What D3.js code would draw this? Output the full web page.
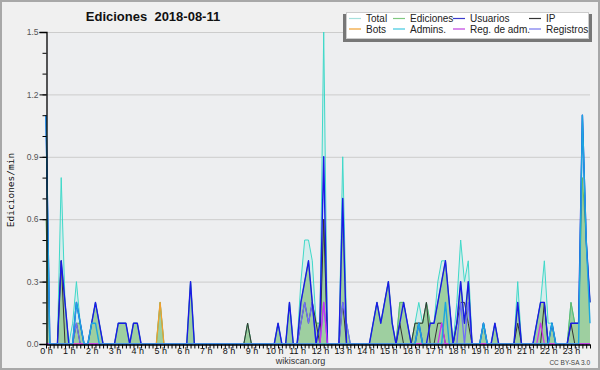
<!DOCTYPE html>
<html><head><meta charset="utf-8">
<script src="https://cdn.jsdelivr.net/npm/d3@7/dist/d3.min.js"></script>
<style>
html,body{margin:0;padding:0;background:#f0f0f0;}
svg{display:block;}
</style></head><body>
<svg id="c" width="600" height="370"></svg>
<script>
// ---- data (edits per minute, 10-minute bins, 0:00 .. 23:50) ----
const hourLabels = ["0 h","1 h","2 h","3 h","4 h","5 h","6 h","7 h","8 h","9 h","10 h","11 h",
  "12 h","13 h","14 h","15 h","16 h","17 h","18 h","19 h","20 h","21 h","22 h","23 h"];
const yTickLabels = ["0.0","0.3","0.6","0.9","1.2","1.5"];
const yTickValues = [0,0.3,0.6,0.9,1.2,1.5];

const total = [
 1.1,0,0,0,0.8,0.2,0,0.1,0.3,0.1,0,0,
 0.1,0.2,0.1,0,0,0,0,0.1,0.1,0.1,0,0.1,
 0.1,0,0,0,0,0,0.2,0,0,0,0,0,
 0,0,0.3,0,0,0,0,0,0,0,0,0,
 0,0,0,0,0,0.1,0,0,0,0,0,0,
 0,0.1,0,0,0.2,0,0,0.3,0.5,0.5,0.4,0.1,
 0.1,1.5,0,0,0,0,0.9,0.1,0,0,0,0,
 0,0,0.1,0.2,0.1,0.2,0.3,0.1,0,0.2,0.2,0.1,
 0,0.1,0.2,0.1,0.2,0.1,0.1,0.3,0.4,0.4,0.2,0,
 0.2,0.5,0.3,0.4,0,0,0,0.1,0,0,0.1,0,
 0,0,0,0,0.3,0,0,0,0,0.1,0.2,0.4,
 0.1,0.1,0,0,0,0,0.2,0.1,0.1,1.1,0.5,0.2];
const ediciones = [
 0.6,0,0,0,0.4,0.2,0,0,0.1,0.1,0,0,
 0.1,0.2,0.1,0,0,0,0,0.1,0.1,0.1,0,0.1,
 0.1,0,0,0,0,0,0.2,0,0,0,0,0,
 0,0,0.3,0,0,0,0,0,0,0,0,0,
 0,0,0,0,0,0.1,0,0,0,0,0,0,
 0,0.1,0,0,0.2,0,0,0.2,0.3,0.4,0.2,0.1,
 0.1,0.6,0,0,0,0,0.6,0.1,0,0,0,0,
 0,0,0.1,0.2,0.1,0.2,0.3,0.1,0,0.2,0.2,0.1,
 0,0.1,0.1,0.1,0.2,0.1,0.1,0.2,0.3,0.4,0.2,0,
 0.1,0.3,0.1,0.3,0,0,0,0.1,0,0,0.1,0,
 0,0,0,0,0.2,0,0,0,0,0.1,0.2,0.2,
 0,0.1,0,0,0,0,0.2,0.1,0.1,0.8,0.5,0.2];
const usuarios = [
 1.1,0,0,0,0.4,0.2,0,0,0.2,0.1,0,0,
 0.1,0.2,0.1,0,0,0,0,0.1,0.1,0.1,0,0.1,
 0.1,0,0,0,0,0,0,0,0,0,0,0,
 0,0,0.3,0,0,0,0,0,0,0,0,0,
 0,0,0,0,0,0,0,0,0,0,0,0,
 0,0.1,0,0,0.2,0,0,0.2,0.3,0.4,0.2,0,
 0.1,0.9,0,0,0,0,0.7,0,0,0,0,0,
 0,0,0.1,0.2,0.1,0.2,0.3,0.1,0,0.1,0.2,0.1,
 0,0,0.1,0,0,0.1,0.1,0.2,0.3,0.4,0.2,0,
 0.1,0.3,0.1,0.3,0,0,0,0.1,0,0,0.1,0,
 0,0,0,0,0.2,0,0,0,0,0.1,0.2,0.2,
 0,0.1,0,0,0,0,0.1,0.1,0.1,1.1,0.5,0.2];
const ip = [
 0,0,0,0,0.4,0,0,0,0.1,0,0,0,
 0,0,0,0,0,0,0,0,0,0,0,0,
 0,0,0,0,0,0,0,0,0,0,0,0,
 0,0,0,0,0,0,0,0,0,0,0,0,
 0,0,0,0,0,0.1,0,0,0,0,0,0,
 0,0,0,0,0,0,0,0.1,0.2,0.1,0.2,0.1,
 0,0.6,0,0,0,0,0.2,0,0,0,0,0,
 0,0,0,0,0,0,0,0,0,0.1,0,0,
 0,0.1,0.1,0.1,0.2,0,0,0.1,0.1,0,0,0,
 0.1,0.2,0.2,0.1,0,0,0,0,0,0,0,0,
 0,0,0,0,0.1,0,0,0,0,0,0,0.2,
 0,0,0,0,0,0,0.1,0,0,0,0,0];
const bots = [
 0,0,0,0,0,0,0,0,0,0,0,0,
 0,0,0,0,0,0,0,0,0,0,0,0,
 0,0,0,0,0,0,0.2,0,0,0,0,0,
 0,0,0,0,0,0,0,0,0,0,0,0,
 0,0,0,0,0,0,0,0,0,0,0,0,
 0,0,0,0,0,0,0,0,0,0,0,0,
 0,0,0,0,0,0,0,0,0,0,0,0,
 0,0,0,0,0,0,0,0,0,0,0,0,
 0,0,0,0,0,0,0,0,0,0,0,0,
 0,0,0,0,0,0,0,0,0,0,0,0,
 0,0,0,0,0,0,0,0,0,0,0,0,
 0,0,0,0,0,0,0,0,0,0,0,0];
const admins = [
 1.1,0,0,0,0,0,0,0,0.2,0.1,0,0,
 0.1,0.1,0,0,0,0,0,0,0,0,0,0,
 0,0,0,0,0,0,0,0,0,0,0,0,
 0,0,0,0,0,0,0,0,0,0,0,0,
 0,0,0,0,0,0,0,0,0,0,0,0,
 0,0,0,0,0,0,0,0,0,0,0,0,
 0,0,0,0,0,0,0,0,0,0,0,0,
 0,0,0,0,0,0,0,0,0,0,0,0,
 0,0,0.1,0,0,0,0,0,0,0.2,0,0,
 0,0,0,0,0,0,0,0.1,0,0,0,0,
 0,0,0,0,0,0,0,0,0,0,0,0,
 0,0.1,0,0,0,0,0,0,0,1.1,0.5,0.1];
const regAdm = [
 0,0,0,0,0,0,0,0,0,0,0,0,
 0,0,0,0,0,0,0,0,0,0,0,0,
 0,0,0,0,0,0,0,0,0,0,0,0,
 0,0,0,0,0,0,0,0,0,0,0,0,
 0,0,0,0,0,0,0,0,0,0,0,0,
 0,0,0,0,0,0,0,0,0,0,0,0,
 0,0.2,0,0,0,0,0,0,0,0,0,0,
 0,0,0,0,0,0,0,0,0,0,0,0,
 0,0,0,0,0,0,0,0,0.1,0,0,0,
 0,0,0,0,0,0,0,0,0,0,0,0,
 0,0,0,0,0,0,0,0,0,0,0.1,0,
 0,0,0,0,0,0,0,0,0,0,0,0];
const registros = [
 0,0,0,0,0,0,0,0,0.1,0,0,0,
 0,0,0,0,0,0,0,0,0,0,0,0,
 0,0,0,0,0,0,0,0,0,0,0,0,
 0,0,0,0,0,0,0,0,0,0,0,0,
 0,0,0,0,0,0,0,0,0,0,0,0,
 0,0,0,0,0,0,0,0.1,0.2,0.1,0.2,0,
 0,0.2,0,0,0,0,0.2,0.1,0,0,0,0,
 0,0,0,0,0,0,0,0,0,0,0,0,
 0,0,0,0,0,0,0,0,0,0,0,0,
 0,0.2,0,0.2,0,0,0,0,0,0,0,0,
 0,0,0,0,0,0,0,0,0,0,0,0,
 0,0,0,0,0,0,0,0,0,0,0,0];

// ---- drawing ----
const svg = d3.select("#c");
const W = 600, H = 370;
const pL = 46, pR = 590, pT = 32, pB = 344;
const x = d3.scaleLinear().domain([0, total.length - 1]).range([pL, pR]);
const y = d3.scaleLinear().domain([0, 1.5]).range([pB, pT]);

svg.append("rect").attr("x",1).attr("y",1).attr("width",W-2).attr("height",H-2)
  .attr("fill","#f0f0f0").attr("stroke","#a8a8a8").attr("stroke-width",2);
svg.append("rect").attr("x",pL).attr("y",pT).attr("width",pR-pL).attr("height",pB-pT)
  .attr("fill","#edeef0");

// grid
svg.append("g").selectAll("line").data(yTickValues.slice(1)).join("line")
  .attr("x1",pL).attr("x2",pR).attr("y1",d=>y(d)+0.5).attr("y2",d=>y(d)+0.5)
  .attr("stroke","#cccccc").attr("stroke-width",1);

const idx = d3.range(total.length);
const area = arr => d3.area().x(i=>x(i)).y0(y(0)).y1(i=>y(arr[i]))(idx);
const line = arr => d3.line().x(i=>x(i)).y(i=>y(arr[i]))(idx);

svg.append("path").attr("d",area(total)).attr("fill","#40e0d0").attr("fill-opacity",0.13);
svg.append("path").attr("d",area(ediciones)).attr("fill","#99cc99").attr("fill-opacity",0.92);

const series = [
  {name:"Total", data:total, color:"#3fd9c9", leg:"#a6e0dc", w:1},
  {name:"Ediciones", data:ediciones, color:"#66b866", leg:"#80c880", w:1},
  {name:"IP", data:ip, color:"#333333", leg:"#333333", w:1},
  {name:"Bots", data:bots, color:"#f0a030", leg:"#f0a030", w:1.3},
  {name:"Registros", data:registros, color:"#6f6ff5", leg:"#7777ee", w:1.3},
  {name:"Usuarios", data:usuarios, color:"#1a1ae6", leg:"#3a3acc", w:1.4},
  {name:"Reg. de adm.", data:regAdm, color:"#cc33ee", leg:"#c040e0", w:1.3},
  {name:"Admins.", data:admins, color:"#1ca6e0", leg:"#40c8e0", w:1.4}
];
series.forEach(s=>{
  svg.append("path").attr("d",line(s.data)).attr("fill","none")
    .attr("stroke",s.color).attr("stroke-width",s.w).attr("stroke-linejoin","round");
});

// axes
const fontSans = "'Liberation Sans', Arial, sans-serif";
const yMinor = d3.axisLeft(y).tickValues(d3.range(0,16).map(k=>k/10)).tickSize(4).tickFormat("");
const gy2 = svg.append("g").attr("transform",`translate(${pL+0.5},0)`).call(yMinor);
gy2.select(".domain").remove();
const yMajor = d3.axisLeft(y).tickValues(yTickValues).tickSize(7).tickPadding(1)
  .tickFormat((d,i)=>yTickLabels[i]);
const gy = svg.append("g").attr("transform",`translate(${pL+0.5},0)`).call(yMajor);
gy.select(".domain").attr("stroke","#000").attr("stroke-width",1.3);
gy.selectAll("text").attr("font-family",fontSans).attr("font-size",8.5).attr("fill","#555");
svg.selectAll(".tick line").attr("stroke","#000");

const xMinor = d3.axisBottom(x).tickValues(idx).tickSize(4).tickFormat("").tickSizeOuter(0);
const gx = svg.append("g").attr("transform",`translate(0,${pB+0.5})`).call(xMinor);
gx.select(".domain").attr("stroke","#000").attr("stroke-width",1.5);
gx.selectAll(".tick line").attr("stroke","#000");
const xLab = d3.axisBottom(x).tickValues(hourLabels.map((_,h)=>h*6)).tickSize(0).tickPadding(4)
  .tickFormat((d,i)=>hourLabels[i]);
const gxl = svg.append("g").attr("transform",`translate(0,${pB})`).call(xLab);
gxl.select(".domain").remove();
gxl.selectAll("text").attr("font-family",fontSans).attr("font-size",9).attr("fill","#111");

// texts
svg.append("text").attr("x",153).attr("y",21).attr("text-anchor","middle")
  .attr("font-family","'Liberation Sans', Arial, sans-serif").attr("font-weight","bold")
  .attr("font-size",13).attr("fill","#111").text("Ediciones  2018-08-11").style("white-space","pre");
svg.append("text").attr("transform","translate(14,190) rotate(-90)").attr("text-anchor","middle")
  .attr("font-family","'DejaVu Sans Mono', monospace").attr("font-size",9.5).attr("fill","#111")
  .text("Ediciones/min");
svg.append("text").attr("x",300.5).attr("y",364).attr("text-anchor","middle")
  .attr("font-family",fontSans).attr("font-size",9).attr("fill","#333").text("wikiscan.org");
svg.append("text").attr("x",590).attr("y",365).attr("text-anchor","end")
  .attr("font-family",fontSans).attr("font-size",6.5).attr("fill","#444").text("CC BY-SA 3.0");

// legend
const lg = svg.append("g");
lg.append("rect").attr("x",343).attr("y",14).attr("width",249).attr("height",28).attr("fill","#777");
lg.append("rect").attr("x",346.5).attr("y",12.5).attr("width",242).attr("height",26)
  .attr("fill","#fff").attr("stroke","#cccccc");
const legendOrder = ["Total","Ediciones","Usuarios","IP","Bots","Admins.","Reg. de adm.","Registros"];
const colX = [349,393,453,529];
const rowY = [18.5,29];
legendOrder.forEach((n,k)=>{
  const s = series.find(t=>t.name===n);
  const cx = colX[k%4], cy = rowY[Math.floor(k/4)];
  lg.append("line").attr("x1",cx).attr("x2",cx+12).attr("y1",cy).attr("y2",cy)
    .attr("stroke",s.leg).attr("stroke-width",1.2);
  lg.append("text").attr("x",cx+17).attr("y",cy+3.7).attr("font-family",fontSans)
    .attr("font-size",10).attr("fill","#222").text(n);
});
</script>
</body></html>
